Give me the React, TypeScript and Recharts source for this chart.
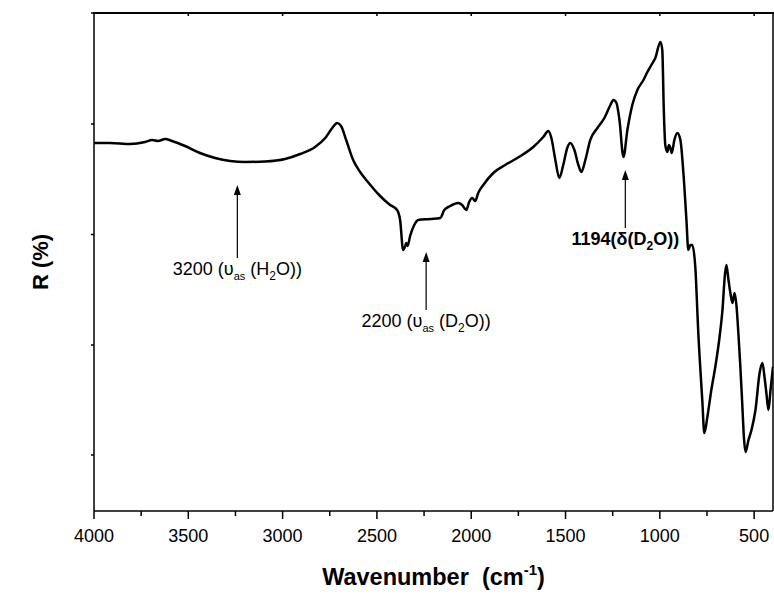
import React from "react";
import {
  ComposedChart,
  Line,
  XAxis,
  YAxis,
  ReferenceLine,
} from "recharts";

// spectrum: wavenumber (cm-1) and reflectance (arb. %)
const wavenumber = [
  4000, 3915, 3809, 3729, 3692, 3660, 3623, 3586, 3517, 3438, 3358, 3278, 3199,
  3093, 2987, 2907, 2828, 2774, 2737, 2711, 2690, 2663, 2626, 2589, 2552, 2483,
  2430, 2393, 2377, 2361, 2350, 2345, 2337, 2324, 2302, 2281, 2217, 2164, 2143,
  2111, 2069, 2048, 2026, 2011, 1995, 1979, 1963, 1936, 1883, 1820, 1756, 1671,
  1618, 1591, 1575, 1554, 1533, 1512, 1491, 1475, 1453, 1432, 1416, 1395, 1369,
  1331, 1294, 1262, 1246, 1230, 1214, 1193, 1172, 1146, 1119, 1087, 1066, 1045,
  1024, 997, 987, 979, 971, 960, 952, 944, 937, 923, 907, 891, 875, 859, 849,
  838, 828, 812, 796, 775, 764, 748, 727, 706, 684, 668, 655, 647, 636, 626,
  615, 604, 594, 583, 573, 562, 554, 546, 530, 514, 493, 471, 456, 445, 434,
  424, 413, 400,
];

const reflectance = [
  74.0, 74.0, 73.8, 74.2, 74.6, 74.4, 74.8, 74.4, 73.4, 72.0, 71.0, 70.4, 70.2,
  70.3, 70.8, 71.8, 73.2, 75.0, 77.0, 78.0, 77.4, 74.6, 70.6, 68.2, 66.4, 63.4,
  61.6, 60.6, 58.6, 52.6, 53.4, 54.0, 53.4, 55.4, 57.6, 58.6, 58.8, 59.0, 60.6,
  61.4, 62.0, 61.6, 60.6, 62.2, 63.0, 62.4, 64.0, 65.6, 68.0, 69.6, 71.0, 73.2,
  75.2, 76.4, 75.0, 70.6, 67.0, 69.6, 73.0, 74.0, 72.6, 69.6, 68.2, 70.6, 74.6,
  77.0, 79.0, 81.6, 82.6, 82.0, 78.6, 71.2, 76.6, 81.6, 84.6, 86.6, 88.2, 89.6,
  91.0, 94.2, 92.6, 80.6, 73.6, 72.2, 73.6, 73.0, 72.0, 74.6, 76.0, 74.6, 68.0,
  58.6, 52.6, 53.6, 53.6, 49.2, 36.0, 22.6, 16.0, 19.2, 24.6, 29.2, 35.0, 40.6,
  47.6, 49.6, 46.6, 44.0, 42.0, 44.0, 41.6, 35.6, 29.2, 21.0, 15.0, 12.2, 14.6,
  16.6, 20.6, 28.0, 30.0, 27.2, 23.6, 20.6, 24.6, 29.2,
];

const xTicks = [
  4000, 3750, 3500, 3250, 3000, 2750, 2500, 2250, 2000, 1750, 1500, 1250, 1000,
  750, 500,
];
const yTicks = [11.6, 33.6, 55.7, 77.8, 100];
const Y_MIN = 0.4;
const Y_MAX = 100;

// arrows: position, tail, head and label
const annotX = [3240, 2239, 1183];
const annotFrom = [51, 40.6, 57];
const annotTo = [65.6, 52.2, 68.6];
const annotMain = ["3200 (", "2200 (", "1194("];
const annotSym = ["υ", "υ", "δ"];
const annotSub = ["as", "as", ""];
const annotAtom = ["H", "D", "D"];
const annotBold = [false, false, true];

const data = wavenumber.map((w, i) => ({ w, r: reflectance[i] }));

const FONT = "Arial, 'Liberation Sans', sans-serif";
const W = 774;
const H = 596;
const TOP = 13;
const LEFT_W = 94;
const RIGHT_W = 1;
const XAXIS_H = 85;
const PLOT_H = H - TOP - XAXIS_H;

const XTick = (props: any) => {
  const { x, y, payload } = props;
  const major = payload.value % 500 === 0;
  const top = y - PLOT_H;
  return (
    <g>
      <line x1={x} x2={x} y1={y} y2={y + (major ? 8 : 5)} stroke="#000" strokeWidth={1.5} />
      {major && payload.value !== 4000 && (
        <line x1={x} x2={x} y1={top} y2={top + 3} stroke="#000" strokeWidth={1.5} />
      )}
      {major && (
        <text x={x} y={y + 31} textAnchor="middle" fontSize={18} fontFamily={FONT} fill="#000">
          {payload.value}
        </text>
      )}
    </g>
  );
};

const NoLabel = () => <g />;

// axis title plus the top edge of the frame
const XTitle = (props: any) => {
  const { viewBox } = props;
  const cx = viewBox.x + viewBox.width / 2;
  const y = viewBox.y + 74;
  const top = viewBox.y - PLOT_H;
  return (
    <g>
      <line x1={viewBox.x} x2={viewBox.x + viewBox.width} y1={top} y2={top} stroke="#000" strokeWidth={1.5} />
      <text x={cx} y={y} textAnchor="middle" fontSize={23.5} fontWeight="bold" fontFamily={FONT} fill="#000">
        {"Wavenumber\u00a0 (cm"}
        <tspan fontSize={15} dy={-10}>-1</tspan>
        <tspan dy={10}>)</tspan>
      </text>
    </g>
  );
};

const makeArrow = (i: number) => (p: any) => {
  const { x1, y1, x2, y2 } = p;
  const bold = annotBold[i];
  const sub = annotSub[i];
  return (
    <g>
      <line x1={x1} y1={y1} x2={x2} y2={y2 + 6} stroke="#000" strokeWidth={1.2} />
      <polygon points={`${x2},${y2} ${x2 - 3.5},${y2 + 10} ${x2 + 3.5},${y2 + 10}`} fill="#000" />
      <text
        x={x1}
        y={y1 + 17}
        textAnchor="middle"
        fontSize={18}
        fontFamily={FONT}
        fontWeight={bold ? "bold" : "normal"}
        fill="#000"
      >
        {annotMain[i]}
        {annotSym[i]}
        {sub && (
          <tspan fontSize={11} dy={5}>
            {sub}
          </tspan>
        )}
        <tspan dy={sub ? -5 : 0}>{sub ? " (" : "("}{annotAtom[i]}</tspan>
        <tspan fontSize={12} dy={5}>2</tspan>
        <tspan dy={-5}>O))</tspan>
      </text>
    </g>
  );
};

export default function App() {
  return (
    <div style={{ position: "absolute", left: 0, top: 0, width: W, height: H, background: "#fff" }}>
      <ComposedChart
        width={W}
        height={H}
        data={data}
        margin={{ top: TOP, right: 0, bottom: 0, left: 0 }}
      >
        <XAxis
          dataKey="w"
          type="number"
          domain={[400, 4000]}
          reversed
          ticks={xTicks}
          interval={0}
          allowDataOverflow
          height={XAXIS_H}
          tickSize={0}
          tickMargin={0}
          tick={<XTick />}
          axisLine={{ stroke: "#000", strokeWidth: 1.5 }}
          tickLine={false}
          label={<XTitle />}
        />
        <YAxis
          type="number"
          domain={[Y_MIN, Y_MAX]}
          ticks={yTicks}
          interval={0}
          allowDataOverflow
          width={LEFT_W}
          tick={NoLabel}
          tickSize={3}
          axisLine={{ stroke: "#000", strokeWidth: 1.5 }}
          tickLine={{ stroke: "#000", strokeWidth: 1.5 }}
          label={{
            value: "R (%)",
            angle: -90,
            position: "insideLeft",
            offset: 40,
            style: { fontSize: 22, fontWeight: "bold", fontFamily: FONT, fill: "#000", textAnchor: "middle" },
          }}
        />
        <YAxis
          yAxisId="right"
          orientation="right"
          type="number"
          domain={[Y_MIN, Y_MAX]}
          width={RIGHT_W}
          tick={false}
          tickLine={false}
          axisLine={{ stroke: "#000", strokeWidth: 1.5 }}
        />
        <Line
          type="monotone"
          dataKey="r"
          stroke="#000"
          strokeWidth={2.5}
          dot={false}
          activeDot={false}
          isAnimationActive={false}
        />
        {annotX.map((x, i) => (
          <ReferenceLine
            key={i}
            segment={[
              { x, y: annotFrom[i] },
              { x, y: annotTo[i] },
            ]}
            stroke="#000"
            shape={makeArrow(i)}
          />
        ))}
      </ComposedChart>
      {/* html fallback for the top edge of the frame */}
      <div
        style={{
          position: "absolute",
          left: LEFT_W - 0.75,
          top: TOP - 0.75,
          width: W - LEFT_W - RIGHT_W + 1.5,
          height: 1.5,
          background: "#000",
          pointerEvents: "none",
        }}
      />
    </div>
  );
}
